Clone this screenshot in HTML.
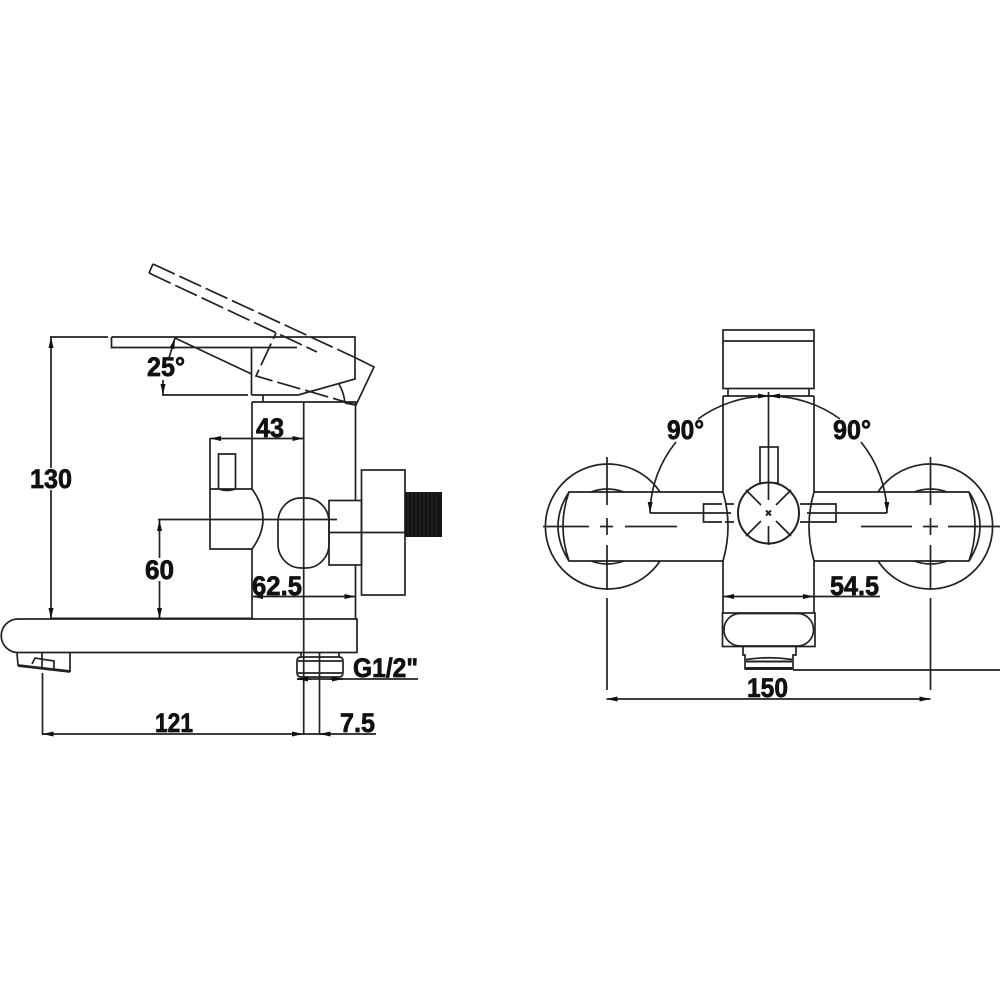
<!DOCTYPE html>
<html><head><meta charset="utf-8"><style>
html,body{margin:0;padding:0;background:#fff}
svg{display:block;filter:blur(.3px)}
text{font-family:"Liberation Sans",sans-serif;font-weight:bold;fill:#111;stroke:#111;stroke-width:.7;font-size:26.5px}
</style></head><body>
<svg width="1000" height="1000" viewBox="0 0 1000 1000" xmlns="http://www.w3.org/2000/svg">
<defs>
<marker id="a" viewBox="0 0 11 5" refX="11" refY="2.5" markerWidth="11" markerHeight="5" markerUnits="userSpaceOnUse" orient="auto-start-reverse"><path d="M0 0L11 2.500L0 5Z" fill="#111"/></marker>
</defs>
<g fill="none" stroke="#222" stroke-width="1.7">
<!-- LEFT: handle -->
<path d="M50 337H108M111.500 337H355V379L298 395M111.500 337V347.500H297M251.500 347.500V395M175 338L251.500 374M162 395H248M251.500 395H298M263 395V402"/>
<path d="M169 358L175 338" marker-end="url(#a)"/>
<path d="M163 380V395" marker-end="url(#a)"/>
<!-- dimension 130 / 60 -->
<path d="M51 337V468" marker-start="url(#a)"/>
<path d="M51 490V619" marker-end="url(#a)"/>
<path d="M159.500 520V558" marker-start="url(#a)"/>
<path d="M159.500 581V619" marker-end="url(#a)"/>
<!-- dashed handle -->
<path d="M149 273L153 264M355 357.500L374 367L356 405L345 403"/>
<path stroke-dasharray="24 5" d="M153 264L355 357.500M149 273L317 352M356 405L256 376L276 333"/>
<path d="M339 384Q344 393 345 403"/>
<!-- body -->
<path d="M252 402H355.500V500M355.500 565V596M252 402V489M252 549V619M355.500 596V619"/>
<path d="M303.700 402V735"/>
<path d="M210 438.500H303.500" marker-start="url(#a)" marker-end="url(#a)"/>
<path d="M210 438V549H252Q274 519 252 489H210M218.500 489V454H235.500V489M218.500 489Q227 492 235.500 489"/>
<path d="M158 519.500H337"/>
<rect x="278" y="498" width="51" height="70" rx="23" ry="24" fill="none"/>
<rect x="329" y="500.500" width="32.500" height="64.500"/>
<rect x="361.500" y="470" width="43.500" height="125"/>
<path d="M329 532.500H405"/>
<path d="M252 596.500H355.500" marker-start="url(#a)" marker-end="url(#a)"/>
<!-- spout -->
<path d="M18 619H357V652.500H18A16.700 16.700 0 0 1 18 619Z"/>
<path d="M252 618.500H50" stroke-width="2"/>
<path d="M17 653L18 665L70 671L70 653M18 666L70 672M32 664L35 658L54 661V669M42 653V668"/>
<path d="M42.500 673V735"/>
<path d="M42.500 734H303" marker-start="url(#a)" marker-end="url(#a)"/>
<path d="M303.700 734H376" />
<path d="M330 734H319.500" marker-end="url(#a)"/>
<path d="M319.500 653V735"/>
<!-- connector -->
<path d="M301 653V657M339 653V657M301 657H339Q343 657 343 661V672Q343 677 339 677H301Q297 677 297 672V661Q297 657 301 657M298 661H342M298 673H342"/>
<path d="M297 679H418"/>
<path d="M297 679H311" marker-start="url(#a)"/>
<path d="M343 679H329" marker-start="url(#a)"/>

<!-- RIGHT -->
<rect x="723" y="330" width="91" height="58.500"/>
<path d="M723 341H814M728 389V396M809 389V396"/>
<path d="M723 396H814M723 396V492Q733 526 723 561V613M814 396V492Q804 526 814 561V613"/>
<path d="M768.500 392V482"/>
<path d="M698 419A119 117 0 0 1 769 396" marker-end="url(#a)"/>
<path d="M840 419A119 117 0 0 0 769 396" marker-end="url(#a)"/>
<path d="M676 442A119 117 0 0 0 650 513" marker-end="url(#a)"/>
<path d="M861 442A119 117 0 0 1 887 513" marker-end="url(#a)"/>
<path d="M650 513H731M807 513H887"/>
<path d="M722 504H703.500V522H722M808 504H836V522H808" />
<path d="M725 504H737M725 522H737M800 504H814M800 522H814" stroke-dasharray="9 4"/>
<rect x="760" y="447" width="18" height="36"/>
<circle cx="768.500" cy="513" r="30.500" fill="#fff" stroke-width="2"/>
<path d="M746 490L761 505M791 490L776 505M746 536L761 521M791 536L776 521M768.500 483V500M768.500 526V545"/>
<path d="M766 510.500L771 515.500M771 510.500L766 515.500" stroke-width="2"/>
<!-- side plates -->
<path d="M660 492A62.500 62.500 0 1 0 660 561M591 492Q607 486 624 492M591 561Q607 567 624 561"/>
<path d="M878 492A62.500 62.500 0 1 1 878 561M914 492Q931 486 947 492M914 561Q931 567 947 561"/>
<path d="M723 492H569Q547 526 569 561H723M569 492Q557 526 569 561M814 492H969Q991 526 969 561H814M969 492Q981 526 969 561"/>
<path d="M543 526.500H589M600 526.500H613M625 526.500H677M861 526.500H912M923 526.500H938M948 526.500H1000"/>
<path d="M607 457V505M607 518V535M607 545V590M607 598V690M930.500 457V505M930.500 518V535M930.500 545V590M930.500 598V690"/>
<path d="M723 596.500H814" marker-start="url(#a)" marker-end="url(#a)"/>
<path d="M814 596.500H880"/>
<rect x="722.500" y="613" width="92.500" height="33.500"/>
<rect x="724" y="613.500" width="89.500" height="32.500" rx="16" ry="16"/>
<path d="M743 646V655H745V669H793V655H796V646"/>
<path d="M746 659.500Q769 656 792 659.500M793 670H1000"/>
<path d="M746 668.500H792" stroke-width="3"/>
<path d="M746 661.500H792" stroke-width="2"/>
<path d="M606.500 699H930.500" marker-start="url(#a)" marker-end="url(#a)"/>
</g>
<!-- thread -->
<rect x="405" y="492" width="37" height="45" fill="#141414"/>
<path d="M408 492V537M412 492V537M416 492V537M420 492V537M424 492V537M428 492V537M432 492V537M436 492V537" stroke="#2e2e2e" stroke-width=".8"/>

<text x="30" y="488" textLength="42" lengthAdjust="spacingAndGlyphs">130</text>
<text x="147" y="376" textLength="38" lengthAdjust="spacingAndGlyphs">25°</text>
<text x="256" y="437" textLength="28" lengthAdjust="spacingAndGlyphs">43</text>
<text x="145" y="579" textLength="29" lengthAdjust="spacingAndGlyphs">60</text>
<text x="252" y="595" textLength="50" lengthAdjust="spacingAndGlyphs">62.5</text>
<text x="155" y="732" textLength="38" lengthAdjust="spacingAndGlyphs">121</text>
<text x="353" y="677" textLength="65" lengthAdjust="spacingAndGlyphs">G1/2"</text>
<text x="340" y="732" textLength="35" lengthAdjust="spacingAndGlyphs">7.5</text>
<text x="667" y="439" textLength="37" lengthAdjust="spacingAndGlyphs">90°</text>
<text x="833" y="439" textLength="38" lengthAdjust="spacingAndGlyphs">90°</text>
<text x="830" y="595" textLength="49" lengthAdjust="spacingAndGlyphs">54.5</text>
<text x="747" y="697" textLength="41" lengthAdjust="spacingAndGlyphs">150</text>
</svg>
</body></html>
